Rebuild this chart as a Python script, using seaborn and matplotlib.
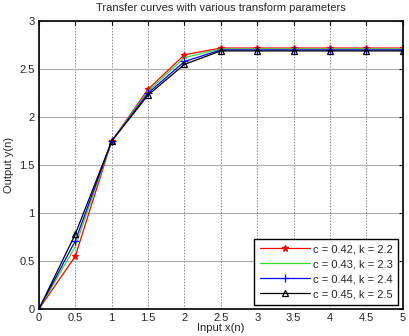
import matplotlib
matplotlib.use("Agg")
import matplotlib.pyplot as plt
import seaborn as sns
import pandas as pd

# data
x_in = [0, 0.5, 1, 1.5, 2, 2.5, 3, 3.5, 4, 4.5, 5]
y_c42 = [0, 0.55, 1.75, 2.29, 2.65, 2.72, 2.72, 2.72, 2.72, 2.72, 2.72]
y_c43 = [0, 0.65, 1.75, 2.27, 2.62, 2.71, 2.71, 2.71, 2.71, 2.71, 2.71]
y_c44 = [0, 0.71, 1.75, 2.25, 2.58, 2.70, 2.70, 2.70, 2.70, 2.70, 2.70]
y_c45 = [0, 0.78, 1.75, 2.23, 2.55, 2.69, 2.69, 2.69, 2.69, 2.69, 2.69]
labels = ["c = 0.42, k = 2.2", "c = 0.43, k = 2.3", "c = 0.44, k = 2.4", "c = 0.45, k = 2.5"]

sns.set_style("white")
plt.rcParams['font.family'] = ['Liberation Sans', 'DejaVu Sans']

fig = plt.figure(figsize=(4.09, 3.36), dpi=100)
ax = fig.add_axes([0.095, 0.08, 0.89, 0.857])

styles = [("red", "*", 5, "red"), ("#33dd33", None, 0, None), ("blue", "+", 6, "blue"), ("black", "^", 5, "none")]
for ys, lab, (col, mk, ms, fc) in zip([y_c42, y_c43, y_c44, y_c45], labels, styles):
    df = pd.DataFrame({"x": x_in, "y": ys})
    sns.lineplot(data=df, x="x", y="y", ax=ax, color=col, marker=mk, markersize=ms,
                 markerfacecolor=fc, markeredgecolor=col, markeredgewidth=0.9,
                 linewidth=0.9, label=lab)

ax.set_xlim(0, 5)
ax.set_ylim(0, 3)
ax.set_xticks([0, 0.5, 1, 1.5, 2, 2.5, 3, 3.5, 4, 4.5, 5])
ax.set_xticklabels(["0", "0.5", "1", "1.5", "2", "2.5", "3", "3.5", "4", "4.5", "5"])
ax.set_yticks([0, 0.5, 1, 1.5, 2, 2.5, 3])
ax.set_yticklabels(["0", "0.5", "1", "1.5", "2", "2.5", "3"])
ax.xaxis.grid(True, color="#888888", linestyle=(0, (1.5, 1.5)), linewidth=0.7)
ax.yaxis.grid(True, color="#aaaaaa", linestyle="-", linewidth=0.8)
ax.tick_params(direction="in", top=True, right=True, labelsize=8, length=3, pad=3, color="black")
for s in ax.spines.values():
    s.set_color("black")
    s.set_linewidth(1.2)
    s.set_visible(True)

ax.set_xlabel("Input x(n)", fontsize=8, labelpad=0)
ax.set_ylabel("Output y(n)", fontsize=8, labelpad=4)
ax.set_title("Transfer curves with various transform parameters", fontsize=8, pad=7)

leg = ax.legend(loc="lower right", fontsize=8, numpoints=1, handlelength=4.5, handletextpad=0.3,
                frameon=True, fancybox=False, borderpad=0.5, labelspacing=0.45, borderaxespad=0.4)
leg.get_frame().set_edgecolor("black")
leg.get_frame().set_linewidth(1.0)
leg.get_frame().set_alpha(1)

fig.savefig("out.png", dpi=100)
